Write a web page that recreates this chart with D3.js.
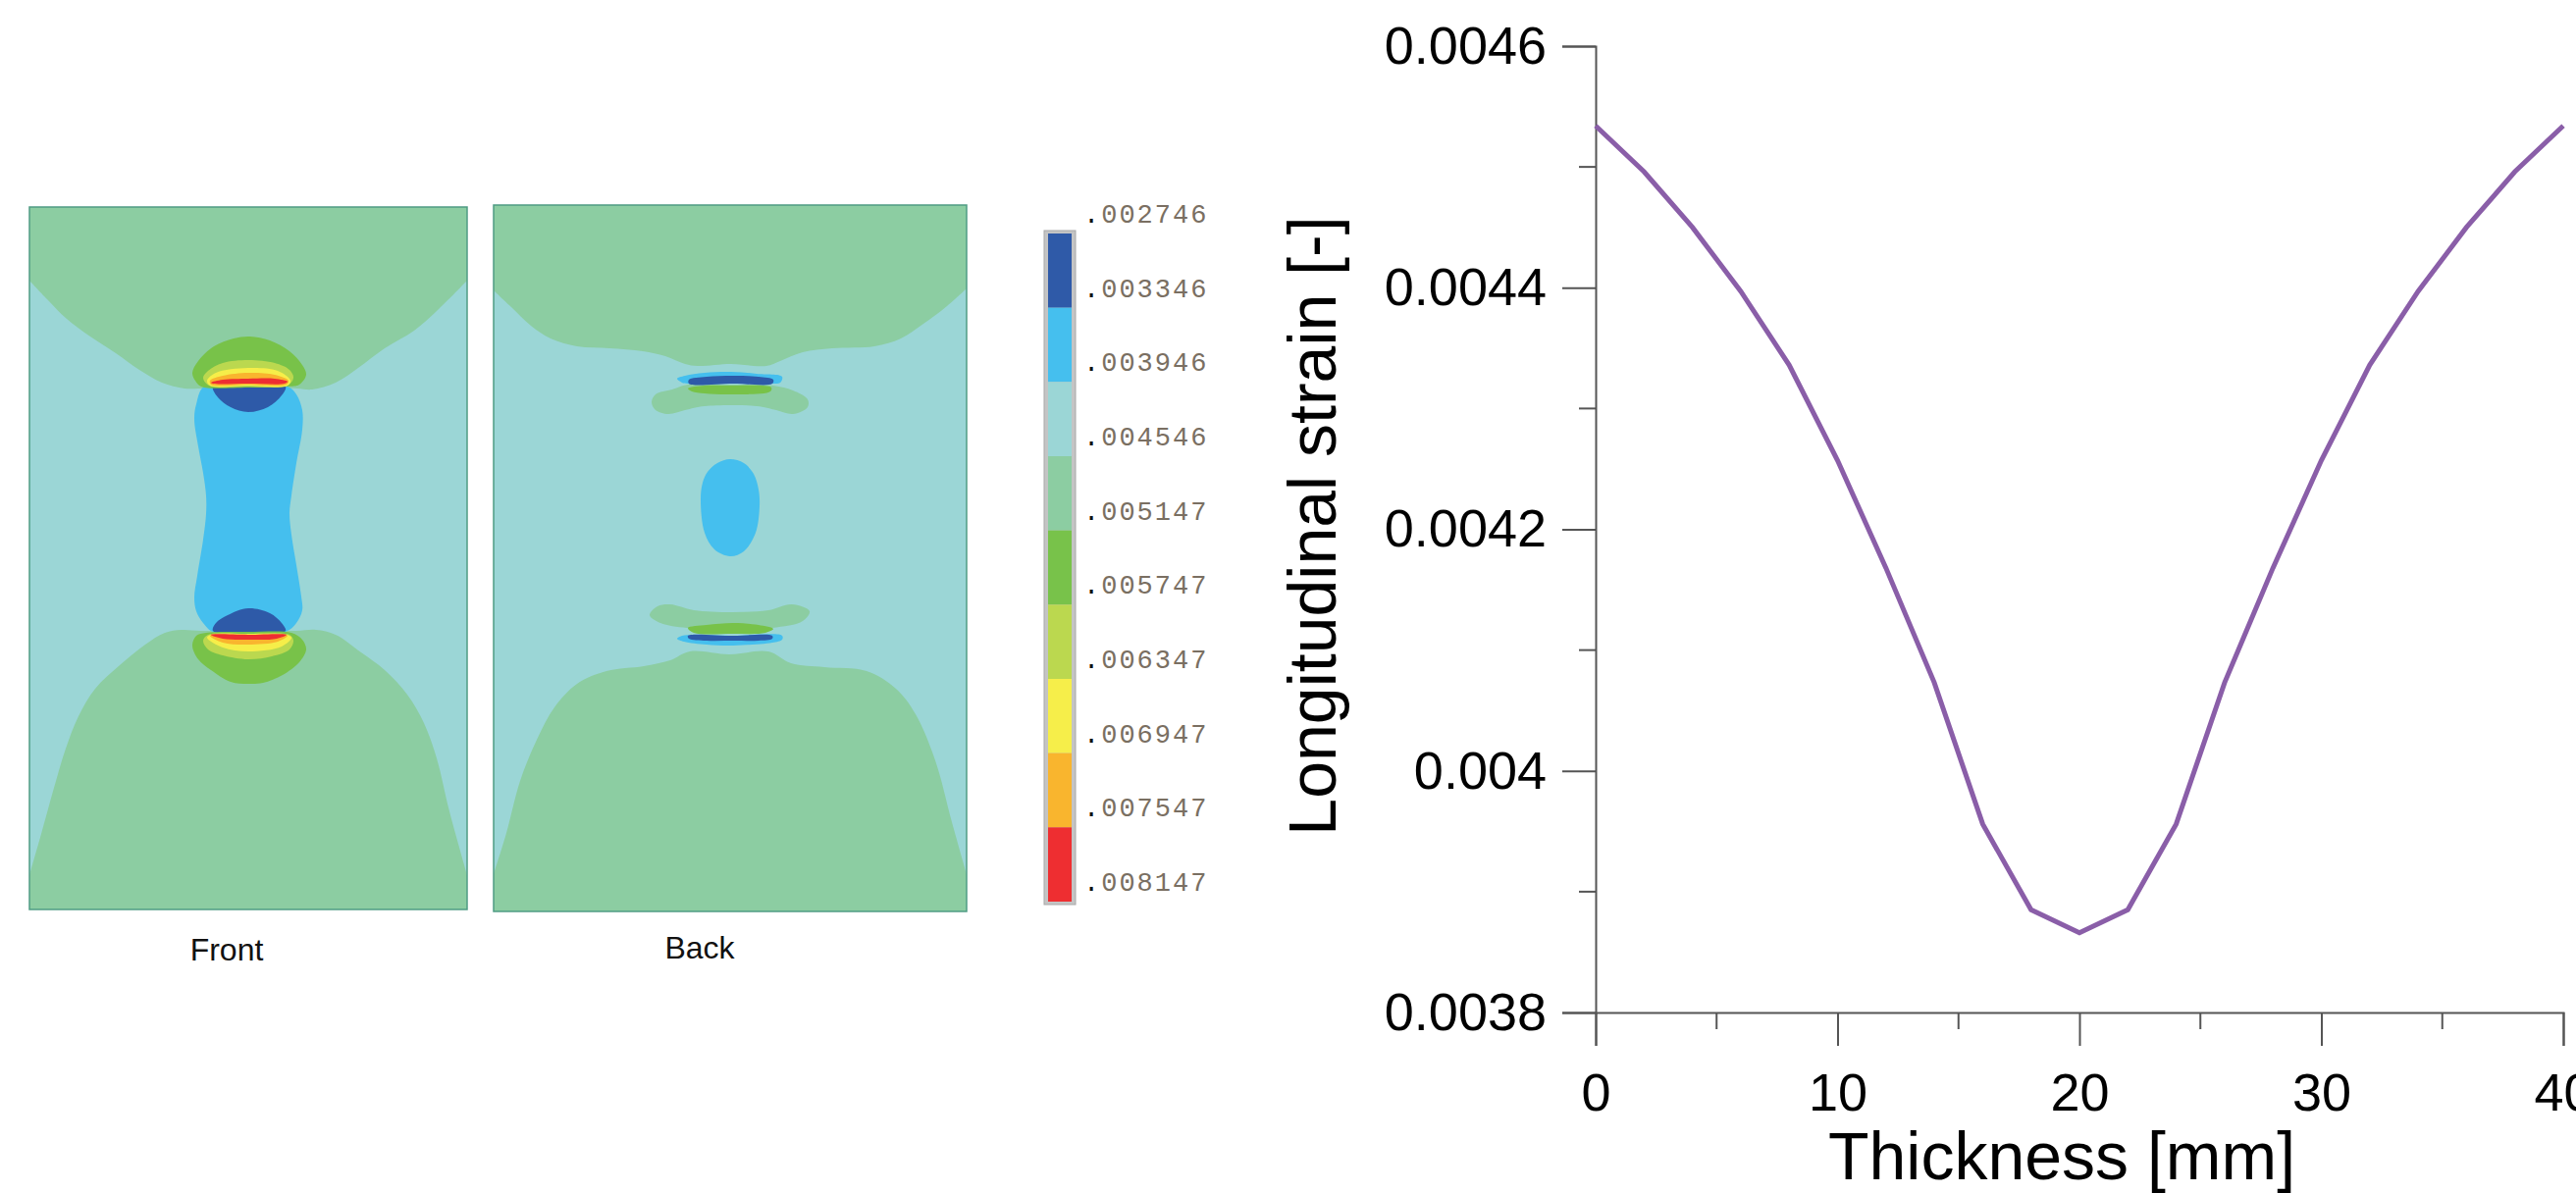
<!DOCTYPE html>
<html>
<head>
<meta charset="utf-8">
<script src="https://cdn.jsdelivr.net/npm/d3@7"></script>
<style>
    html, body { margin: 0; padding: 0; background: #fff; overflow: hidden; }
    text { font-family: "Liberation Sans", Arial, sans-serif; }
</style>
</head>
<body>
<script>
// line chart data
var thickness = [0, 2, 4, 6, 8, 10, 12, 14, 16, 18, 20, 22, 24, 26, 28, 30, 32, 34, 36, 38, 40];
var strain = [0.004534, 0.004496, 0.00445, 0.004397, 0.004336, 0.004257, 0.004168, 0.004073, 0.003956, 0.003885, 0.003866,
    0.003885, 0.003956, 0.004073, 0.004168, 0.004257, 0.004336, 0.004397, 0.00445, 0.004496, 0.004534];
var yMajorTicks = [0.0038, 0.004, 0.0042, 0.0044, 0.0046];
var yTickLabels = ['0.0038', '0.004', '0.0042', '0.0044', '0.0046'];
var yMinorTicks = [0.0039, 0.0041, 0.0043, 0.0045];
var xMajorTicks = [0, 10, 20, 30, 40];
var xMinorTicks = [5, 15, 25, 35];

// legend
var legendLabels = ['002746', '003346', '003946', '004546', '005147', '005747', '006347', '006947', '007547', '008147'];
var legendColors = ['#2f5aa8', '#45bfee', '#9bd6d6', '#8ccda2', '#78c24a', '#bbd84f', '#f6ee4a', '#f9b52e', '#ee2e31'];

// contour outlines of the front face, in panel units
var frontTop = [[0,75],[18,94],[38,114],[62,132],[88,149],[112,166],[135,179],[158,185],[175,185],[223,185],[273,185],[288,186],[312,179],[335,164],[362,144],[392,126],[415,106],[446,75]];
var frontBottom = [[0,681],[12,639],[25,592],[37,552],[50,519],[67,491],[92,467],[118,446],[138,434],[155,431],[175,432],[223,432],[272,432],[292,431],[312,436],[338,454],[362,472],[385,497],[402,526],[415,562],[428,616],[446,681]];
var frontBone = [[178,183],[170,201],[168,216],[172,244],[177,271],[180,294],[180,313],[177,339],[171,376],[168,398],[170,412],[177,424],[187,433],[223,434],[261,433],[272,424],[278,411],[277,397],[272,365],[267,334],[265,312],[267,294],[272,261],[278,227],[278,207],[272,191],[263,183],[223,183]];
var frontBlueTop = [[187,183],[192,194],[205,204],[223,209],[243,204],[257,192],[261,183],[223,183]];
var frontBlueBottom = [[187,432],[190,424],[202,416],[223,409],[245,414],[257,424],[261,432],[223,433]];
var frontTopLobes = [
    [[166,169],[172,157],[188,142],[208,134],[225,132],[245,136],[265,147],[278,161],[282,171],[275,181],[263,183],[223,184],[175,183],[169,177]],
    [[177,174],[182,167],[197,159],[223,156],[250,159],[265,166],[269,174],[263,182],[223,183],[183,182]],
    [[181,177],[190,169],[223,164],[253,167],[266,177],[263,182],[223,182],[184,182]],
    [[184,177],[197,172],[223,169],[250,171],[264,177],[262,181],[223,181],[185,181]],
    [[185,179],[197,176],[223,175],[250,175],[263,178],[260,180],[223,180],[187,180]]
];
var frontBottomLobes = [
    [[166,447],[170,437],[180,434],[223,433],[267,434],[278,441],[282,451],[275,464],[258,477],[238,485],[223,486],[205,484],[185,472],[172,461]],
    [[177,442],[182,436],[223,435],[265,436],[269,442],[265,451],[247,458],[223,461],[197,457],[182,451]],
    [[181,439],[185,436],[223,435],[262,436],[267,439],[257,448],[223,453],[197,449]],
    [[184,437],[223,437],[263,437],[253,443],[223,446],[197,444]],
    [[185,436],[223,436],[262,436],[252,440],[223,441],[197,440]]
];

// contour outlines of the back face
var backTop = [[0,87],[18,104],[38,123],[58,136],[85,144],[118,146],[152,149],[175,154],[195,162],[208,164],[242,162],[278,164],[292,159],[315,150],[345,146],[388,144],[415,136],[438,121],[462,103],[482,85]];
var backBottom = [[0,682],[13,640],[27,587],[44,545],[62,512],[85,488],[115,475],[153,470],[180,464],[200,455],[240,458],[280,455],[303,467],[337,471],[380,475],[410,493],[430,519],[450,566],[467,629],[482,682]];
var backBlob = [[211,300],[213,283],[218,272],[228,263],[241,259],[255,263],[265,274],[270,290],[271,307],[267,334],[255,353],[241,358],[225,351],[215,334]];
var backLobeTop = [[161,201],[165,193],[182,188],[198,183],[244,183],[285,184],[305,189],[320,198],[320,206],[305,213],[288,209],[268,205],[215,205],[195,209],[178,213],[165,209]];
var backGreenTop = [[198,187],[215,184],[242,184],[283,186],[282,190],[242,193],[215,192],[202,190]];
var backBandTop = [[187,177],[195,174],[215,171],[242,170],[268,172],[294,175],[292,181],[284,182],[244,182],[198,182],[192,181]];
var backDarkTop = [[199,178],[217,175],[244,174],[270,175],[285,178],[284,182],[244,182],[199,182]];
var backLobeBottom = [[159,418],[167,409],[180,407],[204,413],[244,415],[280,413],[304,407],[322,414],[315,424],[284,431],[244,433],[197,431],[170,426]];
var backGreenBottom = [[198,431],[217,428],[244,426],[270,428],[285,432],[277,436],[244,437],[204,436]];
var backBandBottom = [[187,442],[192,439],[244,439],[294,439],[294,443],[284,446],[244,449],[217,448],[194,445]];
var backDarkBottom = [[198,439],[244,439],[284,439],[284,442],[270,444],[244,444],[217,444],[199,442]];

var width = 2625;
var height = 1216;

var svg = d3.select('body').append('svg')
    .attr('width', width)
    .attr('height', height);

// the source contour plots are soft, a small blur gets the same edges
svg.append('filter').attr('id', 'soft')
    .append('feGaussianBlur').attr('stdDeviation', 0.7);

var panelCount = 0;

function drawPanel(x0, y0, w, h, label, labelX, labelY, shapes) {
    var xScale = d3.scaleLinear().domain([0, w]).range([x0, x0 + w]);
    var yScale = d3.scaleLinear().domain([0, h]).range([y0, y0 + h]);
    var clipId = 'panel-clip-' + (panelCount++);

    svg.append('clipPath').attr('id', clipId)
        .append('rect')
        .attr('x', x0).attr('y', y0).attr('width', w).attr('height', h);

    var g = svg.append('g')
        .attr('clip-path', 'url(#' + clipId + ')')
        .append('g')
        .attr('filter', 'url(#soft)');

    g.append('rect')
        .attr('x', x0 - 5).attr('y', y0 - 5).attr('width', w + 10).attr('height', h + 10)
        .attr('fill', legendColors[2]);

    var openLine = d3.line()
        .x(function (d) { return xScale(d[0]); })
        .y(function (d) { return yScale(d[1]); })
        .curve(d3.curveCatmullRom);
    var closedLine = d3.line()
        .x(function (d) { return xScale(d[0]); })
        .y(function (d) { return yScale(d[1]); })
        .curve(d3.curveCatmullRomClosed);

    shapes.forEach(function (s) {
        var path;
        if (s.edge !== undefined) {
            //boundary curve closed along the panel edge
            path = openLine(s.points)
                + 'L' + xScale(w) + ',' + yScale(s.edge)
                + 'L' + xScale(0) + ',' + yScale(s.edge) + 'Z';
        } else {
            path = closedLine(s.points);
        }
        g.append('path').attr('d', path).attr('fill', s.color);
    });

    svg.append('rect')
        .attr('x', x0).attr('y', y0).attr('width', w).attr('height', h)
        .attr('fill', 'none')
        .attr('stroke', '#4f9c84')
        .attr('stroke-width', 1.5);

    svg.append('text')
        .attr('x', labelX)
        .attr('y', labelY)
        .attr('text-anchor', 'middle')
        .attr('font-size', 32)
        .attr('fill', '#111')
        .text(label);
}

var lobeColors = [legendColors[4], legendColors[5], legendColors[6], legendColors[7], legendColors[8]];

var frontShapes = [
    {points: frontTop, edge: 0, color: legendColors[3]},
    {points: frontBottom, edge: 716, color: legendColors[3]},
    {points: frontBone, color: legendColors[1]},
    {points: frontBlueTop, color: legendColors[0]},
    {points: frontBlueBottom, color: legendColors[0]}
];
frontTopLobes.forEach(function (p, i) { frontShapes.push({points: p, color: lobeColors[i]}); });
frontBottomLobes.forEach(function (p, i) { frontShapes.push({points: p, color: lobeColors[i]}); });

var backShapes = [
    {points: backTop, edge: 0, color: legendColors[3]},
    {points: backBottom, edge: 720, color: legendColors[3]},
    {points: backBlob, color: legendColors[1]},
    {points: backLobeTop, color: legendColors[3]},
    {points: backLobeBottom, color: legendColors[3]},
    {points: backGreenTop, color: legendColors[4]},
    {points: backGreenBottom, color: legendColors[4]},
    {points: backBandTop, color: legendColors[1]},
    {points: backBandBottom, color: legendColors[1]},
    {points: backDarkTop, color: legendColors[0]},
    {points: backDarkBottom, color: legendColors[0]}
];

drawPanel(30, 211, 446, 716, 'Front', 231, 979, frontShapes);
drawPanel(503, 209, 482, 720, 'Back', 713, 977, backShapes);

// legend bar
var legendY = d3.scaleBand().domain(d3.range(legendColors.length)).range([238, 919]);
var legend = svg.append('g');

legend.append('rect')
    .attr('x', 1064).attr('y', 235).attr('width', 32).attr('height', 687)
    .attr('fill', '#c4c4c4')
    .attr('stroke', '#a8a8a8')
    .attr('stroke-width', 1);

legend.selectAll('rect.swatch')
    .data(legendColors)
    .enter().append('rect')
    .attr('class', 'swatch')
    .attr('x', 1068)
    .attr('y', function (d, i) { return legendY(i); })
    .attr('width', 24)
    .attr('height', legendY.bandwidth())
    .attr('fill', function (d) { return d; });

var legendLabel = legend.selectAll('text')
    .data(legendLabels)
    .enter().append('text')
    .attr('x', 1104)
    .attr('y', function (d, i) { return 238 + i * legendY.step() - 11; })
    .style('font-family', '"Liberation Mono", monospace')
    .attr('font-size', 27)
    .attr('letter-spacing', 2);
legendLabel.append('tspan').attr('fill', '#111').text('.');
legendLabel.append('tspan').attr('fill', '#7a6f62').text(function (d) { return d; });

// line chart
var xScale = d3.scaleLinear().domain([0, 40]).range([1626, 2612]);
var yScale = d3.scaleLinear().domain([0.0038, 0.0046]).range([1032, 47]);
var axisColor = '#555';

var xAxis = d3.axisBottom(xScale)
    .tickValues(xMajorTicks)
    .tickSize(34)
    .tickPadding(28)
    .tickFormat(d3.format('d'));
var xAxisElem = svg.append('g')
    .attr('transform', 'translate(0,' + yScale(0.0038) + ')')
    .call(xAxis);

var yAxis = d3.axisLeft(yScale)
    .tickValues(yMajorTicks)
    .tickSize(34)
    .tickPadding(16)
    .tickFormat(function (d, i) { return yTickLabels[i]; });
var yAxisElem = svg.append('g')
    .attr('transform', 'translate(' + xScale(0) + ',0)')
    .call(yAxis);

xAxisElem.selectAll('.minor')
    .data(xMinorTicks)
    .enter().append('line')
    .attr('class', 'minor')
    .attr('x1', function (d) { return xScale(d); })
    .attr('x2', function (d) { return xScale(d); })
    .attr('y2', 17);
yAxisElem.selectAll('.minor')
    .data(yMinorTicks)
    .enter().append('line')
    .attr('class', 'minor')
    .attr('y1', function (d) { return yScale(d); })
    .attr('y2', function (d) { return yScale(d); })
    .attr('x2', -17);

[xAxisElem, yAxisElem].forEach(function (axis) {
    axis.selectAll('path.domain').attr('stroke', axisColor).attr('stroke-width', 2);
    axis.selectAll('line').attr('stroke', axisColor).attr('stroke-width', 2);
    axis.selectAll('text')
        .attr('font-size', 54)
        .attr('fill', '#000')
        .style('font-family', '"Liberation Sans", Arial, sans-serif');
});

var strainLine = d3.line()
    .x(function (d, i) { return xScale(thickness[i]); })
    .y(function (d) { return yScale(d); });

svg.append('path')
    .attr('d', strainLine(strain))
    .attr('fill', 'none')
    .attr('stroke', '#8a5ea8')
    .attr('stroke-width', 5);

svg.append('text')
    .attr('x', 2101)
    .attr('y', 1202)
    .attr('text-anchor', 'middle')
    .attr('font-size', 68)
    .attr('fill', '#000')
    .text('Thickness [mm]');

svg.append('text')
    .attr('transform', 'translate(1361,536) rotate(-90)')
    .attr('text-anchor', 'middle')
    .attr('font-size', 68)
    .attr('fill', '#000')
    .text('Longitudinal strain [-]');
</script>
</body>
</html>
